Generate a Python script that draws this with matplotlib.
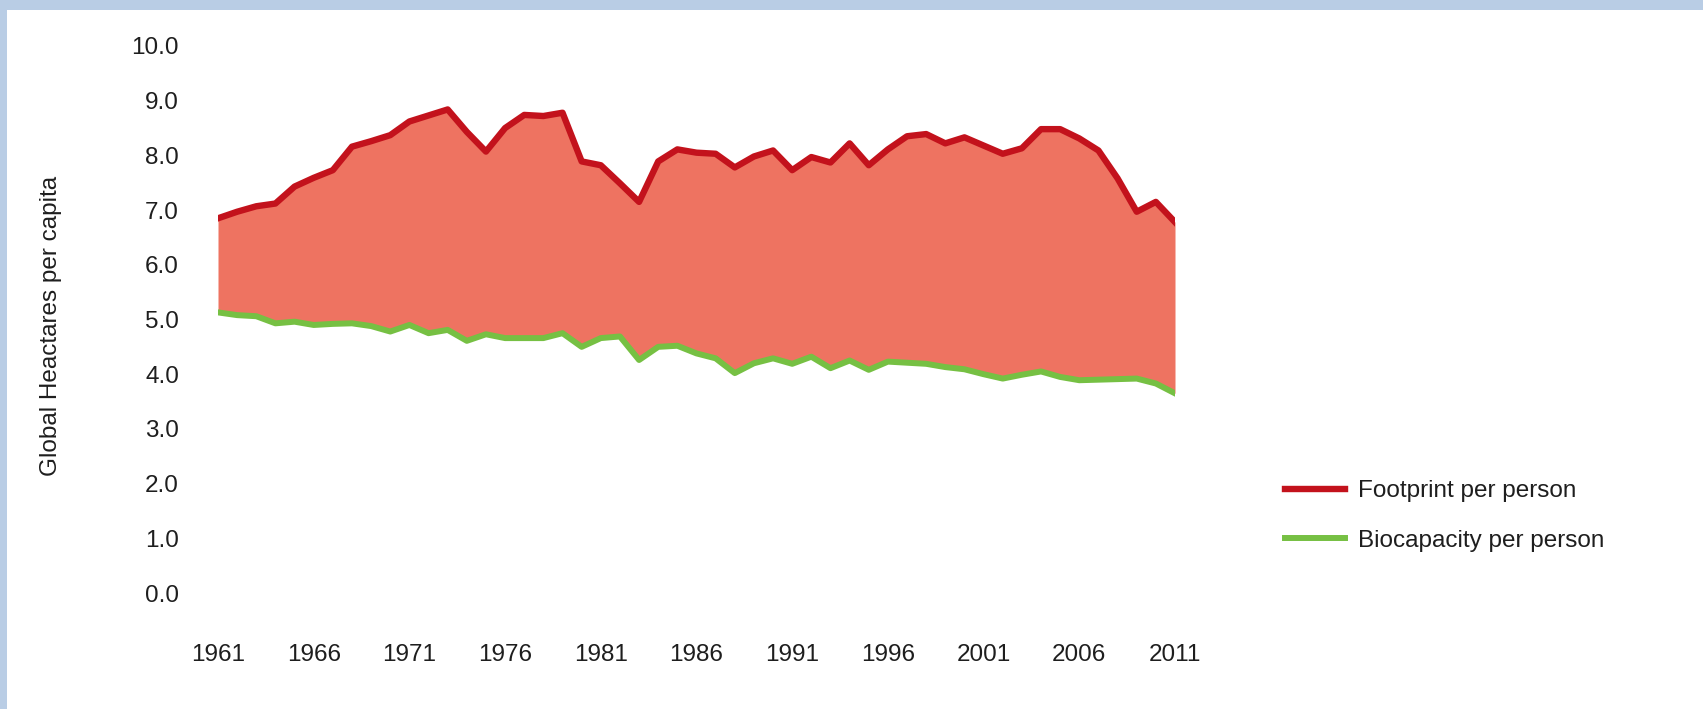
import matplotlib
matplotlib.use('Agg')
import matplotlib.pyplot as plt
from matplotlib.patches import Rectangle

plt.rcParams['font.family'] = ['Liberation Sans', 'DejaVu Sans']

# 연도별 데이터
years = list(range(1961, 2012))
footprint = [6.85, 6.97, 7.07, 7.12, 7.43, 7.59, 7.73, 8.16, 8.26, 8.37,
             8.62, 8.73, 8.84, 8.43, 8.07, 8.50, 8.74, 8.72, 8.78, 7.89,
             7.82, 7.49, 7.15, 7.89, 8.11, 8.05, 8.03, 7.78, 7.98, 8.09,
             7.73, 7.97, 7.87, 8.22, 7.82, 8.11, 8.35, 8.39, 8.22, 8.33,
             8.18, 8.03, 8.13, 8.48, 8.48, 8.31, 8.09, 7.58, 6.97, 7.15,
             6.78]
biocapacity = [5.13, 5.08, 5.06, 4.93, 4.96, 4.90, 4.92, 4.93, 4.88, 4.78,
               4.90, 4.75, 4.81, 4.61, 4.73, 4.66, 4.66, 4.66, 4.75, 4.50,
               4.66, 4.69, 4.26, 4.50, 4.52, 4.38, 4.29, 4.02, 4.20, 4.29,
               4.19, 4.32, 4.11, 4.25, 4.08, 4.23, 4.21, 4.19, 4.13, 4.09,
               4.00, 3.92, 3.99, 4.05, 3.95, 3.89, 3.90, 3.91, 3.92, 3.83,
               3.65]
y_ticks = [0, 1, 2, 3, 4, 5, 6, 7, 8, 9, 10]
x_ticks = [1961, 1966, 1971, 1976, 1981, 1986, 1991, 1996, 2001, 2006, 2011]

W, H = 1703, 709
fig = plt.figure(figsize=(W / 100, H / 100), dpi=100)
fig.patch.set_facecolor('#b9cde5')
# 흰 바탕 (위쪽, 왼쪽에 파란 테두리만 남김)
fig.add_artist(Rectangle((7 / W, 0), 1, 1 - 10 / H, transform=fig.transFigure,
                         facecolor='white', edgecolor='none', zorder=0))

ax = fig.add_axes([218 / W, 1 - 593 / H, (1175 - 218) / W, (593 - 46) / H])
ax.set_facecolor('none')

ax.fill_between(years, biocapacity, footprint, color='#ee7361', linewidth=0)
ax.plot(years, biocapacity, color='#76c043', linewidth=4.3, label='Biocapacity per person')
ax.plot(years, footprint, color='#c3121c', linewidth=4.6, label='Footprint per person')

ax.set_xlim(1961, 2011)
ax.set_ylim(0, 10)
ax.set_yticks(y_ticks)
ax.set_yticklabels([f'{v:.1f}' for v in y_ticks])
ax.set_xticks(x_ticks)
ax.set_xticklabels([str(v) for v in x_ticks])
ax.tick_params(length=0, labelsize=17.5, colors='#1e1e1e')
ax.tick_params(axis='y', pad=28)
ax.tick_params(axis='x', pad=37)
for s in ax.spines.values():
    s.set_visible(False)

fig.text(51 / W, 1 - 326 / H, 'Global Heactares per capita', rotation=90,
         ha='center', va='center', fontsize=17.5, color='#1e1e1e')

handles, labels = ax.get_legend_handles_labels()
fig.legend(handles[::-1], labels[::-1], loc='center left',
           bbox_to_anchor=(1285 / W, 1 - 516 / H), frameon=False,
           fontsize=17.5, handlelength=2.45, handletextpad=0.55,
           labelspacing=1.15, borderpad=0, borderaxespad=0,
           labelcolor='#1e1e1e')

fig.savefig('out.png', dpi=100)
